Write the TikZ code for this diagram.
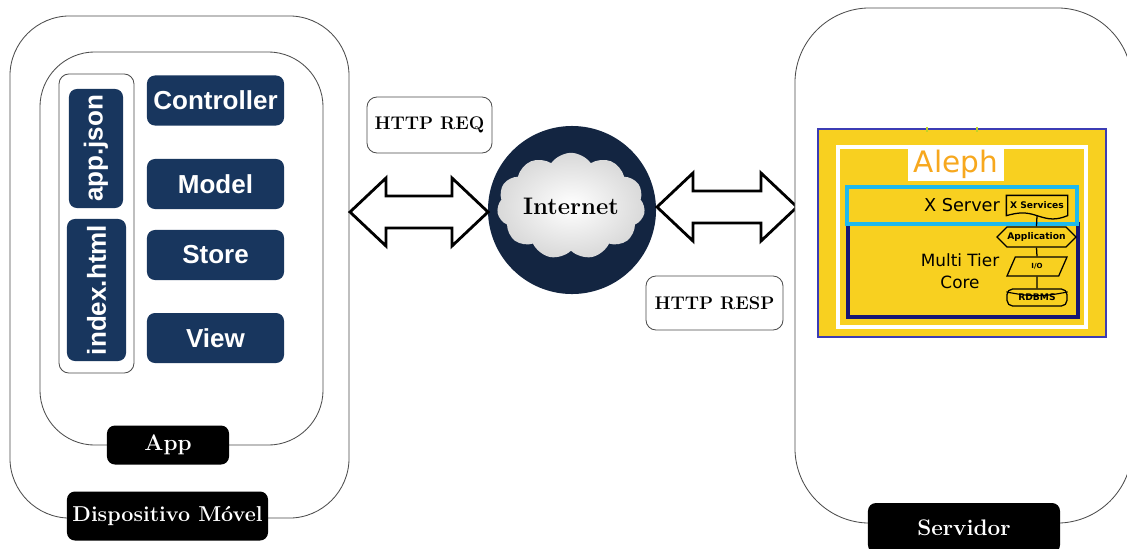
\documentclass[tikz,border=0pt]{standalone}
\usepackage{fontspec}
\usepackage{xcolor}
\usetikzlibrary{shapes.geometric,shapes.symbols}

\newfontfamily\mvcfont{Liberation Sans}
\newfontfamily\alephfont{DejaVu Sans}

\definecolor{blocknavy}{RGB}{24,54,94}
\definecolor{netnavy}{RGB}{19,37,65}
\definecolor{panelyellow}{RGB}{248,208,32}
\definecolor{panelblue}{RGB}{60,60,180}
\definecolor{xcyan}{RGB}{30,185,235}
\definecolor{corenavy}{RGB}{22,22,115}
\definecolor{alephorange}{RGB}{247,168,30}
\definecolor{tickgreen}{RGB}{190,210,40}

\tikzset{
  frame/.style={draw=gray!60!black, line width=0.6pt, fill=white, inner sep=0},
  block/.style={fill=blocknavy, rounded corners=0.2cm, text=white, inner sep=0,
    font=\mvcfont\bfseries\fontsize{18.5}{21}\selectfont,
    minimum width=3.425cm, minimum height=1.25cm},
  tag/.style={fill=black, text=white, rounded corners=0.2cm, inner sep=0,
    font=\bfseries\fontsize{15.3}{17}\selectfont},
  msg/.style={draw=gray!60!black, line width=0.6pt, fill=white, rounded corners=0.25cm,
    inner sep=0, font=\bfseries\fontsize{13}{15}\selectfont},
  bigarrow/.style={draw=black, line width=2pt, fill=white, line join=miter},
  flow/.style={draw=black, line width=0.9pt, fill=panelyellow, inner sep=0,
    font=\alephfont\bfseries\fontsize{6.5}{7}\selectfont},
}

% double arrow between two x positions at height y
\newcommand\dblarrow[3]{%
  \draw[bigarrow] (#1,#3) -- ++(36,-34) -- ++(0,18) -- (#2-36,#3-16) -- ++(0,-18)
    -- (#2,#3) -- ++(-36,34) -- ++(0,-18) -- (#1+36,#3+16) -- ++(0,18) -- cycle;}

\begin{document}
\begin{tikzpicture}[x=0.025cm, y=-0.025cm]
\useasboundingbox (0,0) rectangle (1127,548);

% mobile device
\node[frame, rounded corners=1.5cm, minimum width=8.475cm, minimum height=12.55cm] (dev) at (179.5,267) {};
\node[frame, rounded corners=1.375cm, minimum width=7.075cm, minimum height=9.825cm] (app) at (181.5,248.5) {};
\node[frame, rounded corners=0.25cm, minimum width=1.875cm, minimum height=7.475cm] (files) at (96.5,223.5) {};
\node[block, rotate=90, minimum width=2.975cm, minimum height=1.35cm] (json) at (96,148.5) {app.json};
\node[block, rotate=90, minimum width=3.55cm, minimum height=1.475cm] (html) at (96.5,290) {index.html};
\node[block] (ctrl) at (215.5,100.5) {Controller};
\node[block] (model) at (215.5,184) {Model};
\node[block] (store) at (215.5,255) {Store};
\node[block] (view) at (215.5,338) {View};
\node[tag, minimum width=3.05cm, minimum height=0.975cm, font=\bfseries\fontsize{16}{18}\selectfont] (applbl) at (168,445) {App};
\node[tag, minimum width=5.025cm, minimum height=1.225cm] (devlbl) at (167.5,516) {Dispositivo Móvel};

% network
\node[msg, minimum width=3.125cm, minimum height=1.4cm] (req) at (429.5,125) {HTTP REQ};
\node[msg, minimum width=3.425cm, minimum height=1.35cm] (resp) at (714.5,303) {HTTP RESP};
\node[circle, fill=netnavy, minimum size=4.2cm, inner sep=0] (net) at (572,210) {};
\node[cloud, cloud puffs=11, cloud puff arc=110, aspect=1.5, inner sep=0,
  minimum width=3.7cm, minimum height=2.4cm, inner color=white, outer color=gray!30,
  font=\bfseries\fontsize{17}{20}\selectfont] (cloud) at (571,206) {Internet};
\dblarrow{350}{488}{212}
\dblarrow{657}{797}{207}

% server
\node[frame, rounded corners=1.875cm, minimum width=8.425cm, minimum height=12.875cm] (srv) at (963.5,265.5) {};
\node[tag, minimum width=4.8cm, minimum height=1.25cm, font=\bfseries\fontsize{16}{18}\selectfont] (srvlbl) at (964,528) {Servidor};
\node[draw=panelblue, line width=0.9pt, fill=panelyellow, minimum width=7.2cm, minimum height=5.2cm, inner sep=0] (panel) at (962,233) {};
\draw[tickgreen, line width=1pt] (927,127) -- (927,132) (977,127) -- (977,132);
\node[draw=white, line width=2.2pt, minimum width=6.2cm, minimum height=4.5cm, inner sep=0] (pframe) at (962,237) {};
\node[fill=white, text=alephorange, minimum width=2.4cm, minimum height=0.825cm, inner sep=0,
  font=\alephfont\fontsize{21}{24}\selectfont] (aleph) at (956,164.5) {Aleph};
\node[draw=corenavy, line width=2.6pt, minimum width=5.75cm, minimum height=2.325cm, inner sep=0] (core) at (963,270.5) {};
\node[draw=xcyan, line width=2.4pt, minimum width=5.75cm, minimum height=0.925cm, inner sep=0] (xsrv) at (962,205.5) {};
\node[font=\alephfont\fontsize{12.6}{15}\selectfont] (xsrvtxt) at (962,205) {X Server};
\node[align=center, font=\alephfont\fontsize{12}{15.6}\selectfont] (coretxt) at (960,271) {Multi Tier\\Core};

% core stack
\node[flow, draw=none, fill=none, minimum width=1.5cm, minimum height=0.475cm] (xsvc) at (1037,205.5) {X Services};
\node[flow, signal, signal to=west and east, minimum width=1.975cm, minimum height=0.5cm] (appl) at (1036.5,237) {Application};
\node[flow, trapezium, trapezium left angle=70, trapezium right angle=110, trapezium stretches=true,
  minimum width=1.5cm, minimum height=0.475cm, font=\alephfont\bfseries\fontsize{5}{6}\selectfont] (io) at (1037,266.5) {I/O};
\node[flow, rounded corners=4pt, minimum width=1.5cm, minimum height=0.425cm] (db) at (1037,297.5) {RDBMS};
\draw[black, line width=0.8pt] ([yshift=-2.5pt]db.north west) to[bend right=12] ([yshift=-2.5pt]db.north east);
\draw[black, line width=0.9pt] (xsvc.north west) -- (xsvc.north east) -- (xsvc.south east)
  .. controls +(-0.3cm,-0.12cm) and +(0.3cm,-0.1cm) .. (xsvc.south)
  .. controls +(-0.3cm,0.1cm) and +(0.3cm,0.08cm) .. (xsvc.south west) -- cycle;
\draw[black, line width=0.9pt] (xsvc.south) -- (appl.north) (appl.south) -- (io.north) (io.south) -- (db.north);
\end{tikzpicture}
\end{document}
